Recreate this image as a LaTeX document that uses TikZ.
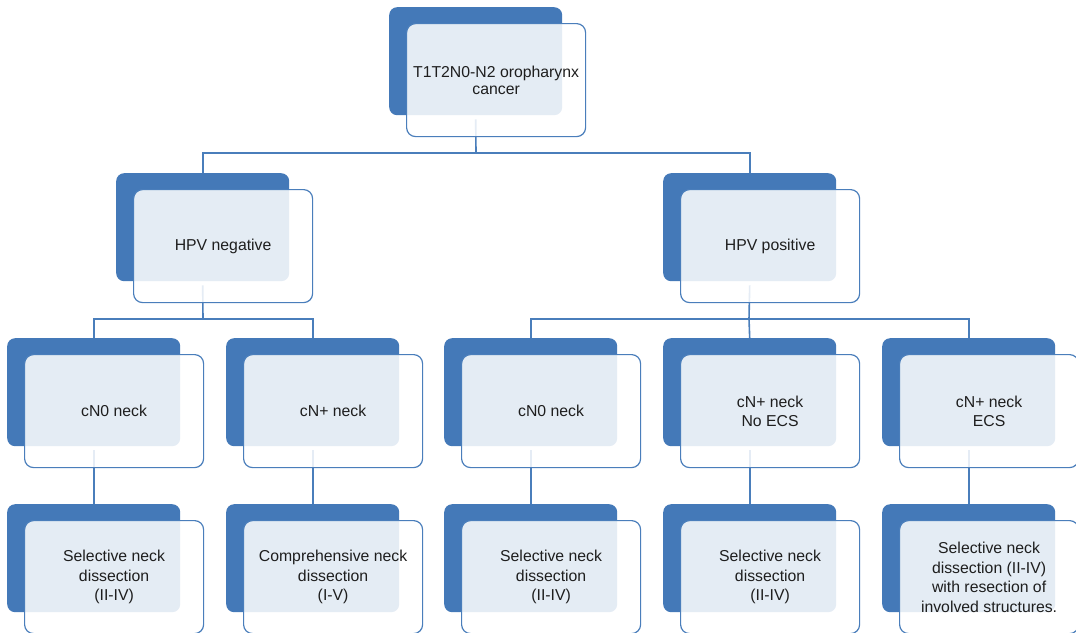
\documentclass[tikz,border=0pt]{standalone}
\usepackage{fontspec}
\setmainfont{Liberation Sans}
\definecolor{bblue}{HTML}{4479B8}
\definecolor{lblue}{HTML}{4A7EBB}
\definecolor{txt}{HTML}{1E1E1E}
\tikzset{
  backbox/.style={fill=bblue, draw=none, rounded corners=8pt, minimum width=173pt, minimum height=108pt, anchor=north west, inner sep=0pt},
  frontbox/.style={draw=lblue, line width=1.2pt, fill=white, fill opacity=0.86, text opacity=1, rounded corners=9pt, minimum width=179pt, minimum height=113pt, anchor=north west, inner sep=2pt, align=center, text=txt, font=\fontsize{15.8}{19.5}\selectfont},
  conn/.style={draw=lblue, line width=1.6pt}
}
\begin{document}
\begin{tikzpicture}[x=1pt,y=-1pt]
\useasboundingbox (0,0) rectangle (1076,632);
\clip (0,0) rectangle (1076,632);
\fill[white] (0,0) rectangle (1076,632);
% back boxes
\node[backbox] (a) at (389,7) {};
\node[backbox] (b1) at (116,173) {};
\node[backbox] (b2) at (663,173) {};
\node[backbox] (c1) at (7,338) {};
\node[backbox] (c2) at (226,338) {};
\node[backbox] (c3) at (444,338) {};
\node[backbox] (c4) at (663,338) {};
\node[backbox] (c5) at (882,338) {};
\node[backbox] (d1) at (7,504) {};
\node[backbox] (d2) at (226,504) {};
\node[backbox] (d3) at (444,504) {};
\node[backbox] (d4) at (663,504) {};
\node[backbox] (d5) at (882,504) {};
% connectors
\coordinate (j1) at (476,153);
\coordinate (j2) at (203,319);
\coordinate (j3) at (749,319);
\draw[conn] ([yshift=-4pt]a.south) -- (j1);
\draw[conn] (b1.north) |- (j1) -| (b2.north);
\draw[conn] ([yshift=-4pt]b1.south) -- (j2);
\draw[conn] (c1.north) |- (j2) -| (c2.north);
\draw[conn] ([yshift=-4pt]b2.south) -- (j3);
\draw[conn] (c3.north) |- (j3) -| (c5.north);
\draw[conn] (j3) -- (c4.north);
\foreach \i in {1,...,5}{
  \draw[conn] ([yshift=-4pt]c\i.south) -- (d\i.north);
}
% front boxes
\node[frontbox, font=\fontsize{15.8}{17}\selectfont] (fa) at (406,23) {T1T2N0-N2 oropharynx\\cancer};
\node[frontbox] (fb1) at (133,189) {HPV negative};
\node[frontbox] (fb2) at (680,189) {HPV positive};
\node[frontbox] (fc1) at (24,354) {cN0 neck};
\node[frontbox] (fc2) at (243,354) {cN+ neck};
\node[frontbox] (fc3) at (461,354) {cN0 neck};
\node[frontbox] (fc4) at (680,354) {cN+ neck\\No ECS};
\node[frontbox] (fc5) at (899,354) {cN+ neck\\ECS};
\node[frontbox] (fd1) at (24,520) {Selective neck\\dissection\\(II-IV)};
\node[frontbox] (fd2) at (243,520) {Comprehensive neck\\dissection\\(I-V)};
\node[frontbox] (fd3) at (461,520) {Selective neck\\dissection\\(II-IV)};
\node[frontbox] (fd4) at (680,520) {Selective neck\\dissection\\(II-IV)};
\node[frontbox] (fd5) at (899,520) {Selective neck\\dissection (II-IV)\\with resection of\\involved structures.};
\end{tikzpicture}
\end{document}
